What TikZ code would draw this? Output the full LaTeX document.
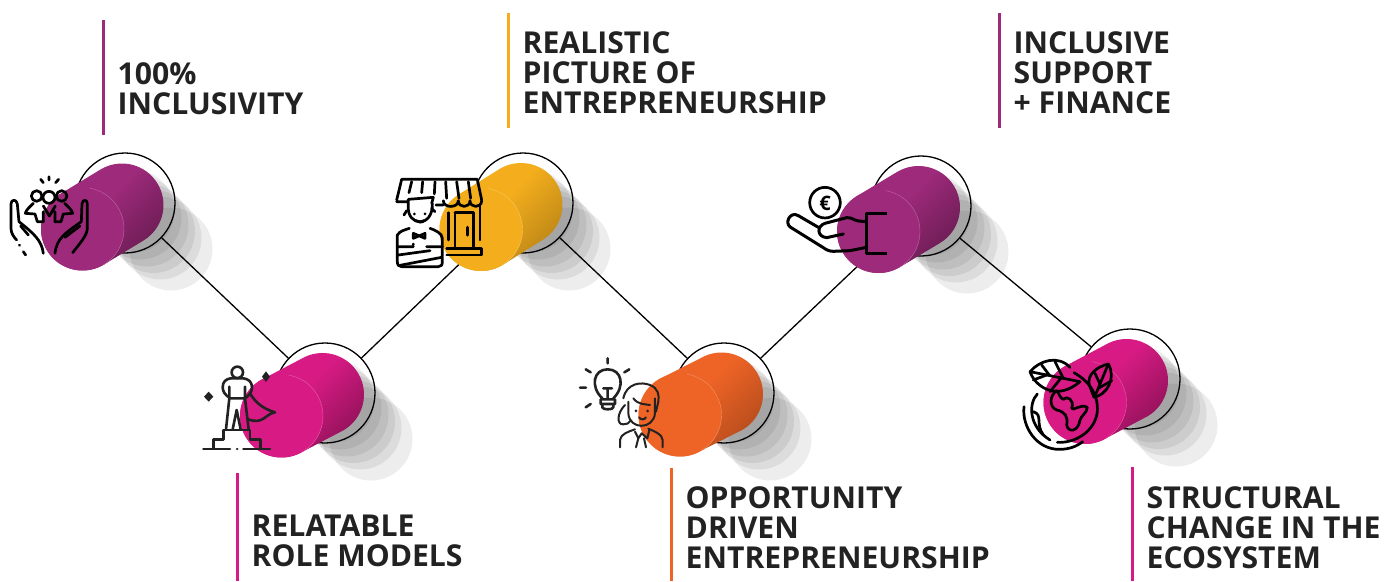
\documentclass[tikz,border=0pt]{standalone}
\usepackage{fontspec}
\setmainfont{Open Sans}
\usepackage{xcolor}
\usepackage{tikz}
\definecolor{Plum}{HTML}{9E2A7B}
\definecolor{Pink}{HTML}{D81B84}
\definecolor{Amber}{HTML}{F4AE1D}
\definecolor{Tangerine}{HTML}{EE6426}
\definecolor{Ink}{HTML}{222222}
\usetikzlibrary{calc}
\pgfdeclareverticalshading{discPlum}{100bp}{color(0bp)=(Plum!65!black); color(26bp)=(Plum!65!black); color(54bp)=(Plum); color(100bp)=(Plum)}
\pgfdeclareverticalshading{discPink}{100bp}{color(0bp)=(Pink!65!black); color(26bp)=(Pink!65!black); color(54bp)=(Pink); color(100bp)=(Pink)}
\pgfdeclareverticalshading{discAmber}{100bp}{color(0bp)=(Amber!75!black); color(26bp)=(Amber!75!black); color(54bp)=(Amber); color(100bp)=(Amber)}
\pgfdeclareverticalshading{discTangerine}{100bp}{color(0bp)=(Tangerine!75!black); color(26bp)=(Tangerine!75!black); color(54bp)=(Tangerine); color(100bp)=(Tangerine)}
\tikzset{
    ringnode/.style={circle, draw=black, line width=1.3pt, minimum size=100pt, inner sep=0pt},
    shadowdisc/.style={fill=black, fill opacity=0.07},
    link/.style={draw=black, line width=1.3pt},
    bar/.style={line width=3pt},
    caption/.style={anchor=north west, inner sep=0pt, align=left, text=Ink, font=\fontsize{30.15}{30}\selectfont\bfseries},
    icon/.style={draw=black, line width=2.7pt, line cap=round, line join=round},
    thinicon/.style={draw=Ink, line width=2pt, line cap=round, line join=round},
    heroicon/.style={draw=Ink, line width=2.6pt, line cap=round, line join=round},
}
\begin{document}
\begin{tikzpicture}[x=1pt, y=-1pt]
\useasboundingbox (0,0) rectangle (1397,581);
%draw the shadows and the rings
\foreach \rx/\ry[count=\c] in {125/203, 325/393, 523/203, 724/393, 921/206, 1130/379}{
    \foreach \d in {46, 35, 28.5, 22, 15, 8}{
        \fill[shadowdisc] (\rx+\d,\ry+\d) circle (41.5pt);
    }
    \node[ringnode] (ring\c) at (\rx,\ry){};
}

% links between the rings
\foreach \a/\b in {1/2, 2/3, 3/4, 4/5, 5/6}{
    \draw[link] (ring\a) -- (ring\b);
}

%draw the discs, front disc flat and back disc shaded
\foreach \fx/\fy/\bx/\by/\col in {82.5/229/122/205/Plum, 281.5/416/322.5/394.5/Pink, 481/229.5/521/204.5/Amber, 680/415/721.5/394/Tangerine, 878.5/231.5/918.5/207.5/Plum, 1085/402.5/1126.5/380.5/Pink}{
    \shade[shading=disc\col, shading angle=45]
        ($(\bx,\by)+(121:41.5pt)$) arc (121:-59:41.5pt) -- ($(\fx,\fy)+(-59:41.5pt)$) arc (-59:-239:41.5pt) -- cycle;
    \fill[\col] (\fx,\fy) circle (41.5pt);
    \draw[\col!70!white, line width=0.4pt] ($(\fx,\fy)+(80:41.5pt)$) arc (80:-60:41.5pt);
}

%draw the bars and captions
\foreach \x/\ya/\yb/\ty/\col/\txt[count=\c] in {
    103/20/135/62/Plum/{100\%\\INCLUSIVITY},
    237/473/581/514.5/Pink/{RELATABLE\\ROLE MODELS},
    508/13/128/31.5/Amber/{REALISTIC\\PICTURE OF\\ENTREPRENEURSHIP},
    671/468/581/486.5/Tangerine/{OPPORTUNITY\\DRIVEN\\ENTREPRENEURSHIP},
    999/13/128/31.5/Plum/{INCLUSIVE\\SUPPORT\\+ FINANCE},
    1132/467/581/486.5/Pink/{STRUCTURAL\\CHANGE IN THE\\ECOSYSTEM}}{
    \draw[bar, \col] (\x,\ya) -- (\x,\yb);
    \node[caption] (label\c) at (\x+14.5,\ty){\txt};
}

% icon: hands and people
\begin{scope}[shift={(0,140)}, x=0.3333pt, y=-0.3333pt]
\draw[icon] (130,340) .. controls (125,300) and (100,280) .. (57,245) -- (52,192) .. controls (50,177) and (33,177) .. (33,192) -- (33,265) .. controls (33,280) and (42,292) .. (50,300);
\draw[icon] (165,340) .. controls (170,295) and (195,280) .. (244,245) -- (246,192) .. controls (248,177) and (262,177) .. (262,192) -- (262,265) .. controls (262,285) and (240,310) .. (218,338);
\draw[icon] (62,258) -- (85,285) (195,292) -- (240,258);
\draw[icon] (58,315) -- (59,316) (70,335) -- (77,345);
\draw[icon] (147,110) -- (147,120) (122,118) -- (130,128) (176,118) -- (167,128);
\draw[icon] (147,172) circle (6pt);
\draw[icon] (110,168) circle (5.3pt);
\draw[icon] (185,168) circle (5.3pt);
\draw[icon] (100,190) .. controls (90,200) and (78,210) .. (76,220) -- (105,222) -- (112,245) -- (130,245);
\draw[icon] (194,190) .. controls (204,200) and (216,210) .. (218,220) -- (190,222) -- (183,245) -- (165,245);
\draw[icon] (130,198) -- (148,228) -- (166,198) (130,215) -- (130,245) (165,215) -- (165,245);
\end{scope}

% icon: hero on a podium
\begin{scope}[shift={(190,330)}, x=0.3333pt, y=-0.3333pt]
\fill[Ink] (228,124) -- (240,140) -- (228,156) -- (216,140) -- cycle;
\fill[Ink] (56,185) -- (70,200) -- (56,215) -- (42,200) -- cycle;
\draw[heroicon] (142,127) circle (5.7pt);
\draw[heroicon] (122,145) -- (160,145) .. controls (175,147) and (186,155) .. (186,172) .. controls (186,185) and (178,195) .. (168,203);
\draw[heroicon] (122,145) .. controls (108,147) and (98,155) .. (98,172) .. controls (98,185) and (106,195) .. (118,203);
\draw[heroicon] (118,170) -- (118,205) -- (108,298) (165,170) -- (165,205) -- (176,298) (118,205) -- (165,205);
\draw[heroicon] (128,298) -- (140,240) -- (152,298);
\draw[heroicon] (180,190) .. controls (195,215) and (215,235) .. (255,247) .. controls (225,252) and (220,285) .. (175,268);
\draw[heroicon] (40,357) -- (120,357) (160,357) -- (240,357) (141,357) -- (142,357);
\draw[heroicon] (70,355) -- (70,328) -- (100,328) -- (100,300) -- (180,300) -- (180,328) -- (212,328) -- (212,355);
\end{scope}

% icon: shopkeeper
\begin{scope}[shift={(380,140)}, x=0.3333pt, y=-0.3333pt]
\draw[icon] (50,180) -- (65,118) -- (292,118) -- (305,180) (50,185) -- (82,185);
\draw[icon] (95,125) -- (87,158) (128,125) -- (125,158) (165,125) -- (163,162) (197,125) -- (200,175) (230,125) -- (237,175) (265,125) -- (272,175);
\draw[icon] (168,195) -- (190,195) (190,182) .. controls (190,205) and (235,205) .. (235,182) .. controls (235,205) and (270,205) .. (270,182) .. controls (270,205) and (305,205) .. (305,182);
\draw[icon] (205,218) -- (205,300) (225,218) -- (280,218) (225,218) -- (225,325) (280,218) -- (280,325) (300,195) -- (300,300);
\draw[icon, line width=3.2pt] (262,262) -- (262,285);
\draw[icon] (200,325) -- (305,325) -- (305,345) -- (200,345);
\draw[icon] (85,198) -- (85,178) -- (160,172) -- (155,190) (85,198) .. controls (80,260) and (160,265) .. (157,190);
\draw[icon] (155,205) -- (165,215) (80,212) -- (72,225);
\fill (103,222) circle (1.5pt) (135,222) circle (1.5pt);
\draw[icon] (108,242) .. controls (115,248) and (125,248) .. (133,242);
\draw[icon] (52,285) -- (52,365) .. controls (52,375) and (56,380) .. (65,380) -- (175,380) .. controls (184,380) and (187,375) .. (187,365) -- (187,295) .. controls (187,280) and (165,270) .. (150,265);
\draw[icon] (52,285) .. controls (60,272) and (75,270) .. (88,265);
\draw[icon] (100,280) -- (135,295) -- (135,280) -- (100,295) -- cycle;
\draw[icon] (55,320) -- (100,320) (140,320) -- (187,320) (55,345) -- (150,332) (60,376) -- (185,352) (100,312) -- (100,314);
\end{scope}

% icon: idea and woman
\begin{scope}[shift={(570,330)}, x=0.3333pt, y=-0.3333pt]
\draw[heroicon] (97,205) .. controls (60,170) and (70,118) .. (113,118) .. controls (156,118) and (166,170) .. (130,205);
\draw[heroicon] (100,175) -- (126,175) (113,175) -- (113,205) (92,208) -- (135,208) -- (135,222) -- (92,222) -- cycle (97,222) -- (97,232) .. controls (97,240) and (130,240) .. (130,232) -- (130,222);
\draw[heroicon] (113,85) -- (113,100) (47,118) -- (62,127) (178,118) -- (163,127) (30,173) -- (48,173) (47,232) -- (62,222);
\draw[thinicon] (160,205) .. controls (170,158) and (215,155) .. (240,165) .. controls (265,175) and (268,195) .. (265,215) -- (258,245);
\draw[thinicon] (175,215) -- (175,250) .. controls (178,300) and (250,300) .. (255,250) -- (255,205);
\draw[thinicon] (190,205) .. controls (205,225) and (225,222) .. (240,225);
\draw[thinicon] (165,225) .. controls (140,250) and (140,285) .. (160,283) .. controls (170,283) and (178,280) .. (182,272);
\fill[Ink] (198,243) circle (1.5pt) (233,243) circle (1.5pt);
\draw[thinicon] (207,262) .. controls (212,270) and (224,270) .. (228,262);
\draw[thinicon] (150,352) -- (150,330) .. controls (152,312) and (175,305) .. (195,298);
\draw[thinicon] (278,352) -- (278,330) .. controls (276,312) and (255,305) .. (235,296);
\draw[thinicon] (195,305) -- (205,325) -- (215,310) -- (232,325) -- (238,300) (205,325) -- (198,352) (222,325) -- (228,352);
\end{scope}

% icon: hand with coin
\begin{scope}[shift={(770,140)}, x=0.3333pt, y=-0.3333pt]
\draw[icon] (165,188) circle (15.3pt);
\node[inner sep=0pt, font=\fontsize{20}{20}\selectfont\bfseries] (coin) at (165,190){€};
\draw[icon, line width=3.4pt, line cap=butt] (350,220) -- (290,220) -- (290,340) -- (350,340);
\draw[icon, line width=3pt] (290,245) -- (265,243) .. controls (250,240) and (245,232) .. (230,233) -- (165,250) .. controls (140,258) and (140,290) .. (170,293) -- (220,282);
\draw[icon, line width=3pt] (290,322) -- (240,332) -- (190,334) .. controls (178,334) and (170,330) .. (160,323) -- (62,262) .. controls (42,250) and (60,212) .. (85,227) -- (145,262);
\end{scope}

% icon: globe and leaves
\begin{scope}[shift={(1000,320)}, x=0.3333pt, y=-0.3333pt]
\draw[icon] (90,155) .. controls (120,120) and (175,105) .. (210,142);
\draw[icon] (90,155) .. controls (105,200) and (170,245) .. (240,185) -- (90,155);
\draw[icon] (125,135) -- (150,168) (165,125) -- (190,175) (100,180) -- (140,165) (150,215) -- (185,172);
\draw[icon] (325,132) .. controls (290,140) and (260,165) .. (268,195) -- (282,232) .. controls (320,225) and (350,175) .. (325,132) -- (285,228);
\draw[icon] (285,160) -- (300,192) (335,182) -- (295,205);
\draw[icon] (222,158) .. controls (270,185) and (295,225) .. (292,275) .. controls (285,335) and (225,370) .. (172,367);
\draw[icon] (72,260) .. controls (65,320) and (110,390) .. (180,388) .. controls (205,388) and (230,380) .. (248,365);
\draw[icon] (112,222) .. controls (85,250) and (85,320) .. (150,360);
\draw[icon] (100,275) .. controls (130,285) and (105,310) .. (130,345);
\draw[icon] (170,212) .. controls (150,225) and (145,260) .. (170,270) .. controls (195,275) and (205,290) .. (200,315) .. controls (205,340) and (235,335) .. (240,300) .. controls (245,285) and (260,280) .. (262,262) .. controls (240,250) and (220,275) .. (215,265) .. controls (225,240) and (200,225) .. (190,238) .. controls (180,235) and (178,220) .. (170,212);
\end{scope}
\end{tikzpicture}
\end{document}
